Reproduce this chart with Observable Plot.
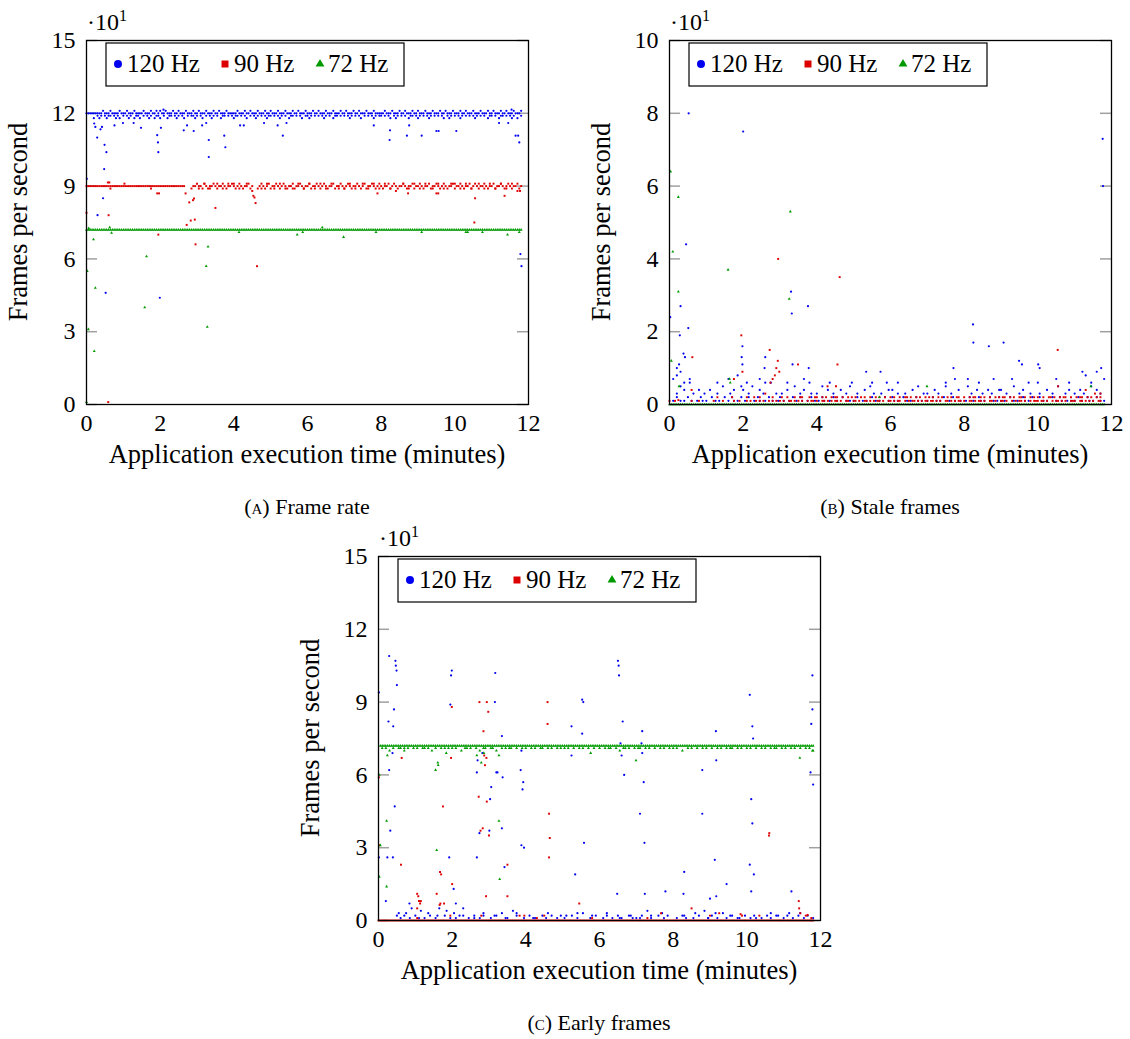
<!DOCTYPE html>
<html>
<head>
<meta charset="utf-8">
<script src="https://cdn.jsdelivr.net/npm/d3@7"></script>
<script src="https://cdn.jsdelivr.net/npm/@observablehq/plot@0.6"></script>
<style>
  body { margin: 0; background: #fff; }
  #page { position: relative; width: 1130px; height: 1039px; background: #fff; }
  .panel { position: absolute; }
</style>
</head>
<body>
<div id="page"></div>
<script>
// ---------------------------------------------------------------------------
// Data. Dense traces are stored as one character per sample, sampled every
// STEP minutes starting at t = 0 ("." = no sample, "c{n}" = c repeated n times).
// Isolated readings are stored as [minutes, fps] pairs.
// ---------------------------------------------------------------------------
const STEP = 0.05;
const rates = ["120 Hz", "90 Hz", "72 Hz"];
const timeTicks = [0, 2, 4, 6, 8, 10, 12];
const fpsTicks150 = [0, 30, 60, 90, 120, 150];
const fpsTicks100 = [0, 20, 40, 60, 80, 100];

// (A) Frame rate ----------------------------------------------------------
// 120 Hz: digit d -> 121 - d fps
const frameRate120Top = [
  "11111111101110111101", "11011101111011101101", "01101110110111011101",
  "10111011101101110111", "11011101101110111011", "01110111011101101110",
  "11101101110111011101", "10111011011101110111", "11011101110110111011",
  "01110111011101101110", "11101101110111011101", "10111011011101110"
].join("");
const frameRate120Low = [
  "....3.232.2322.2323.", "2.232.3223.2.232.322", "3.2.322.232.23.2.223",
  "2.23.2.232.2.322.2.2", "322.2.23.2.232.2.232", "2.2.232.2.322.2.23.2",
  "232.2.2.232.2.322.2.", "2.232.2.23.2.2.232.2", "2.2.23.232.2.2.322.2",
  "32.2.232.2.2.23.232.", "2.232.2.2.232.2.2.32", "2.2.322.2.232.3.2"
].join("");
const frameRate120Dips = [
  [0.01, 93], [0.21, 115.8], [0.24, 114.4], [0.29, 110], [0.3, 78], [0.38, 113.4],
  [0.42, 114.4], [0.45, 85], [0.48, 97], [0.49, 107], [0.54, 104], [0.52, 46],
  [0.76, 115], [0.99, 116], [1.28, 116], [1.48, 114], [1.92, 111], [1.94, 108],
  [1.95, 104], [1.99, 44], [2.02, 114], [2.09, 121.5], [2.64, 113], [2.73, 115],
  [2.91, 112.7], [3.14, 115], [3.32, 109], [3.32, 102], [3.25, 116], [3.74, 110.8],
  [3.77, 106], [4.17, 115], [4.27, 115], [4.82, 116], [5.19, 115], [5.33, 110.8],
  [5.43, 116], [7.8, 115], [8.24, 113], [8.23, 109], [8.7, 110.8], [8.76, 115],
  [9.1, 110.8], [9.5, 112.7], [9.56, 112.7], [10.04, 112.7], [11.2, 116], [11.45, 116],
  [11.54, 121.5], [11.65, 110.8], [11.72, 110.8], [11.75, 108], [11.78, 62], [11.81, 57]
];
// 90 Hz: digit d -> 91 - d fps
const frameRate90Top = [
  "11111111111111111111", "11111111111111111111", "11111111111111...211",
  "01120121101211012110", "12101211021..2101210", "21101210121102110121",
  "10211012101211021101", "21012110121021101210", "12110210121101211021",
  "10121102110121012110", "21101211021012110121", "10211012101211021"
].join("");
const frameRate90Low = [
  "....................", "....................", "....................",
  ".2..0..2...0..2..0..", "0..2...0..3....2..0.", "..2..0..2...2..0..2.",
  ".0..2..0..2..0...2..", "2..0..2...0..2..0..2", "..0..2..3...0..2..0.",
  ".2..0...2..0..2...0.", "0..2..0..2...0..2..0", "..2..0..2..0..3.."
].join("");
const frameRate90Dips = [
  [0, 79], [0.58, 91.5], [0.62, 91.5], [0.6, 78], [0.59, 1], [0.65, 89], [1.03, 91],
  [1.75, 89], [1.97, 87], [1.92, 87], [1.95, 70], [2.69, 87], [2.72, 74], [2.79, 83.3],
  [2.83, 75.8], [2.89, 84.2], [2.92, 84.9], [2.94, 76.2], [2.96, 66], [3.5, 81],
  [4.53, 86], [4.56, 85.3], [4.59, 83], [4.63, 57], [7.9, 87], [8.73, 87], [9.5, 87],
  [9.55, 87], [10.55, 85], [10.53, 75], [11.35, 86], [11.77, 88]
];
// 72 Hz: digit d -> 73 - d fps
const frameRate72Top = "1{237}";
const frameRate72Dips = [
  [0, 1], [0.02, 55], [0.05, 31], [0.06, 72.6], [0.19, 68], [0.21, 22], [0.24, 48],
  [0.63, 73], [0.68, 70.7], [1.58, 40], [1.63, 61], [3.25, 57], [3.28, 32], [3.3, 65],
  [4.14, 71], [5.72, 70], [5.87, 71], [6.4, 73], [6.98, 69], [7.86, 71], [9.1, 71],
  [10.3, 71], [10.35, 71], [10.75, 71], [11.43, 70], [11.75, 71]
];

// (B) Stale frames --------------------------------------------------------
// digit d -> d fps
const stale120Low = [
  "..1.2.1.1.2.1..1.21.", "1..2.1.1..2.1.21.1.2", ".1.2..1.21..1.2.1..1",
  "2.1..1.2.1.21..1.2.1", ".1.21..1.2.1..2.1.1.", "1.2..1.1..2.1.1..2.1",
  ".21.1..2.1.1..21.1..", "1..2.1.1.2..1.21..1.", ".1.2.1..21.1..2.1.12",
  "1.1..2.1.1..21.1.2..", ".2.1.1..2.1.21..1.1.", "1.2.1..21.1.2.1.1"
].join("");
const stale120Mid = [
  "....3.5.4..6.3..4..3", "..4...3..5...3.4...5", "4..3.5...4.3...6..3.",
  ".3..4...5..3.4...3..", "3..5..4..3...4..3.5.", "..3...4..5.3...3...4",
  ".4..3...3...4..5..3.", "3...4.3...5..3...4..", "..5.3..4..3..4.3...4",
  "4..3...5..3.4...3...", ".3...4..3..5...3.4..", "3..4.3...5..4.3.."
].join("");
const stale120High = [
  "..7.8.9.6..7........", "......6.....7....8..", "..6......7..6.......",
  "....6........7..6...", ".......6...........6", "..........6.......6.",
  "....6...............", "..........6....7....", "..7.....6.......7...",
  "......7........6....", "6.........7......6..", "......8..6..9...7"
].join("");
const stale120Peaks = [
  [0.02, 24], [0.2, 10], [0.26, 11], [0.3, 27], [0.28, 19], [0.38, 14], [0.42, 13],
  [0.45, 44], [0.51, 21], [0.52, 80], [2.0, 75], [1.98, 16], [1.96, 13], [1.98, 11],
  [2.6, 13], [2.58, 10], [3.3, 31], [3.32, 25], [3.34, 11], [3.76, 27], [3.78, 10],
  [11.76, 73], [11.77, 60], [11.72, 10], [8.24, 22], [8.25, 17], [8.67, 16], [9.07, 17],
  [9.49, 12], [9.57, 11], [10.01, 11], [10.05, 10], [7.71, 10], [5.34, 9], [5.73, 9],
  [11.21, 9]
];
const stale90Low = [
  "1..1........1...1...", "....1....1.....1..1.", "..1.1..1.1.1..1.1.1.",
  "1.1..11.1.1.1..1.11.", "1..11.1.1.11.1..11..", "11.1..11.1.1.11.1..1",
  "1.1.11..1.1.11.1.1.1", "1.11.1.1..11.1.1.11.", "1..11.1.11.1..11.1..",
  "11.1..1.1.11.1..1.11", "1.11.1..1.11.1.1..11", "1..11.1.1.1..11."
].join("");
const stale90Mid = [
  "....................", "......2.......2.....", "..2...2..2..3...2...",
  ".2..2...2..22...2..2", "2..2.2..2.22..2..2.2", ".2..2.2..2..2.2..2..",
  "2.2..2..22.2..2.2..2", ".2.2..2.2..2.2..22..", "2..2.22..2.2..2..2.2",
  ".22..2.2..22.2..2.2.", "2..2..22.2..2.22..2.", ".2.22..2.2..2.2."
].join("");
const stale90Peaks = [
  [0.24, 1.2], [0.6, 4], [0.62, 13], [1.75, 7], [1.95, 19], [1.98, 9], [2.72, 15],
  [2.74, 6], [2.8, 7], [2.86, 8], [2.9, 10], [2.94, 12], [2.98, 9], [2.95, 40],
  [3.49, 11], [4.29, 5], [4.52, 5], [4.56, 11], [4.62, 35], [10.54, 15], [10.55, 5],
  [11.3, 4], [11.55, 3], [11.7, 3]
];
const stale72Low = "0{237}";
const stale72Peaks = [
  [0.03, 64], [0.05, 12], [0.09, 42], [0.24, 57], [0.24, 31], [0.26, 5], [1.59, 37],
  [1.63, 7], [1.65, 6], [3.25, 29], [3.28, 53], [5.7, 2], [6.99, 5], [11.44, 5]
];

// (C) Early frames --------------------------------------------------------
// 120 Hz and 90 Hz: digit d -> d fps
const early120Low = [
  "..........2.1..3.1..", "2..4.1..2..1.5..2..1", "..1.2.5..1..2..1.3..",
  ".1..2..3..1..4.2...1", "..2..1...2.1..2..1..", ".1...2..1..3...1..2.",
  "..1.2..1..2.1...2.1.", "1..2..4.1...2..1.2..", "..1..2.1...1..2..4.1",
  ".2..1..3.1..2..1...2", "..1.2...1..2.1..2...", "1..3.1..2..1.2..1"
].join("");
const early120Mid = [
  "...........3..2...5.", "..1....3....2....4..", ".3....2.....1....2..",
  "...2.....1.....3....", "....1.......3......2", "..2.....3.......2...",
  "....3......1.....2..", "..1.....2.....3.....", "......2.....3......1",
  "...3.......2....1...", ".....1.......3...2..", "..2......3......."
].join("");
const early120Peaks = [
  [0.01, 94], [0.01, 26], [0.29, 109], [0.27, 82], [0.29, 62], [0.32, 37], [0.24, 26],
  [0.2, 8], [0.39, 26], [0.4, 80], [0.42, 87], [0.38, 69], [0.44, 47], [0.46, 107],
  [0.47, 105], [0.49, 103], [0.5, 97], [0.84, 7], [1.92, 26], [1.95, 89], [1.99, 103],
  [1.97, 101], [2.04, 13], [2.1, 7], [2.67, 61], [2.69, 66], [2.74, 36], [2.67, 26],
  [2.82, 69], [3.01, 37], [3.03, 50], [3.06, 55], [3.16, 90], [3.17, 102], [3.2, 61],
  [3.23, 61], [3.35, 38], [3.35, 76], [3.37, 59], [3.42, 22], [3.86, 62], [3.88, 31],
  [3.91, 54], [3.93, 57], [3.95, 30], [3.88, 70], [5.24, 80], [5.24, 68], [5.34, 19],
  [5.53, 91], [5.56, 90], [5.53, 77], [5.58, 32], [6.5, 107], [6.52, 105], [6.53, 101],
  [6.57, 73], [6.6, 68], [6.63, 82], [6.67, 60], [6.48, 11], [7.16, 78], [7.14, 73],
  [7.16, 69], [7.2, 57], [7.22, 32], [7.23, 11], [7.1, 44], [7.79, 12], [8.3, 20],
  [8.28, 11], [8.79, 62], [8.79, 44], [9.16, 78], [9.17, 66], [9.13, 25], [9.17, 10],
  [9.0, 9], [9.45, 15], [10.08, 93], [10.15, 80], [10.17, 75], [10.12, 50], [10.15, 40],
  [10.08, 23], [10.19, 19], [10.12, 12], [11.21, 12], [11.73, 61], [11.75, 81],
  [11.78, 87], [11.78, 101], [11.8, 56]
];
const early90Low = "0{237}";
const early90Peaks = [
  [0.01, 59], [0.02, 31], [0.61, 23], [0.63, 67], [1.05, 11], [1.08, 10], [1.1, 8],
  [1.05, 5], [1.13, 7], [1.15, 8], [1.05, 1], [1.58, 11], [1.66, 6.4], [1.68, 7],
  [1.67, 20], [1.7, 19], [1.75, 47], [1.78, 7], [1.97, 67], [1.99, 88], [2.0, 15],
  [1.95, 2], [2.74, 90], [2.72, 51], [2.77, 37], [2.83, 38], [2.85, 78], [2.87, 68],
  [2.89, 64], [2.93, 67], [2.94, 90], [2.98, 86], [2.94, 49], [2.92, 10], [3.0, 35],
  [2.79, 2], [3.5, 23], [3.5, 10], [3.83, 2], [3.96, 2], [4.59, 90], [4.59, 81],
  [4.63, 44], [4.65, 34], [4.63, 26], [4.3, 1], [4.5, 2], [5.45, 7], [5.8, 1], [7.3, 1],
  [7.67, 3], [8.5, 5], [9.0, 2], [9.25, 3], [9.83, 2.6], [9.87, 2], [10.34, 2],
  [10.6, 35], [10.61, 36], [11.41, 8], [11.42, 5], [11.45, 3], [11.6, 2], [11.65, 2.3],
  [11.75, 1]
];
// 72 Hz: digit d -> 73 - d fps
const early72Top = ".1{236}";
const early72Low = [
  "..2.2.3.2..22.2.2..2", ".2..22.2.3.2..2.2.2.", "2.2..3.22.2..2.3.22.",
  ".22.3..2.2.22..2..2.", "2..2.2..22..2.2..2.2", ".2.2..2..2.2..2..2..",
  "2..2.22..2.3.22.2..2", ".22..2.2..2..2.2..2.", "2.2..3..2.2..2..2.2.",
  ".2..2.2..2.22..2.2..", "2.2..2..2.2..2.22..2", ".2..2.2..2..2.2.3"
].join("");
const early72Dips = [
  [0.02, 60], [0.05, 31], [0.02, 18], [0.22, 41], [0.22, 14], [0.24, 68], [0.7, 70],
  [1.55, 62], [1.61, 65], [1.62, 64], [1.58, 29], [1.84, 69], [2.67, 68], [2.79, 65],
  [2.86, 69], [3.27, 41], [3.29, 17], [3.27, 68], [5.76, 69], [6.99, 66], [11.44, 67],
  [11.78, 70]
];

// ---------------------------------------------------------------------------
// Decoding helpers
// ---------------------------------------------------------------------------
const expand = code => code.replace(/(.)\{(\d+)\}/g, (_, c, n) => c.repeat(+n));
const samples = (code, value) =>
  Array.from(expand(code)).flatMap((c, i) =>
    c === "." ? [] : [{t: +(i * STEP).toFixed(2), v: value(+c)}]);
const pairs = list => list.map(([t, v]) => ({t, v}));

const below121 = d => 121 - d, below91 = d => 91 - d, below73 = d => 73 - d, asIs = d => d;

const frameRate = {
  "120 Hz": [...samples(frameRate120Top, below121), ...samples(frameRate120Low, below121), ...pairs(frameRate120Dips)],
  "90 Hz": [...samples(frameRate90Top, below91), ...samples(frameRate90Low, below91), ...pairs(frameRate90Dips)],
  "72 Hz": [...samples(frameRate72Top, below73), ...pairs(frameRate72Dips)]
};
const staleFrames = {
  "120 Hz": [...samples(stale120Low, asIs), ...samples(stale120Mid, asIs), ...samples(stale120High, asIs), ...pairs(stale120Peaks)],
  "90 Hz": [...samples(stale90Low, asIs), ...samples(stale90Mid, asIs), ...pairs(stale90Peaks)],
  "72 Hz": [...samples(stale72Low, asIs), ...pairs(stale72Peaks)]
};
const earlyFrames = {
  "120 Hz": [...samples(early120Low, asIs), ...samples(early120Mid, asIs), ...pairs(early120Peaks)],
  "90 Hz": [...samples(early90Low, asIs), ...pairs(early90Peaks)],
  "72 Hz": [...samples(early72Top, below73), ...samples(early72Low, below73), ...pairs(early72Dips)]
};

// ---------------------------------------------------------------------------
// Drawing
// ---------------------------------------------------------------------------
const colors = {"120 Hz": "#0000f0", "90 Hz": "#dd0000", "72 Hz": "#009a00"};
const symbols = {"120 Hz": "circle", "90 Hz": "square", "72 Hz": "triangle"};
const FONT = "'Liberation Serif', 'Times New Roman', serif";

function panel({left, top, width, marginLeft, yMax, yTicks, series, letter, title}) {
  const height = 530, marginTop = 40, marginBottom = 126, plotW = 442;
  const marginRight = width - marginLeft - plotW;
  const plotH = height - marginTop - marginBottom;

  const svg = Plot.plot({
    width, height, marginLeft, marginRight, marginTop, marginBottom,
    style: {fontFamily: FONT, fontSize: "24px", color: "#000", background: "transparent"},
    x: {domain: [0, 12]},
    y: {domain: [0, yMax]},
    marks: [
      Plot.tickY(yTicks, {y: d => d, insetRight: plotW - 11, stroke: "#a0a0a0", strokeWidth: 1.5}),
      Plot.tickY(yTicks, {y: d => d, insetLeft: plotW - 11, stroke: "#a0a0a0", strokeWidth: 1.5}),
      ...rates.map(r => Plot.dot(series[r], {
        x: "t", y: "v", r: 1.1, symbol: symbols[r], fill: colors[r]
      })),
      Plot.axisX({ticks: timeTicks, tickSize: 0, tickPadding: 9, label: null}),
      Plot.axisY({ticks: yTicks, tickSize: 0, tickPadding: 11, tickFormat: d => d / 10, label: null}),
      Plot.frame({stroke: "#000", strokeWidth: 1.3})
    ]
  });

  const s = d3.select(svg);
  // scale multiplier of the y axis
  const mult = s.append("text").attr("x", marginLeft + 1).attr("y", 30)
    .attr("font-size", 24).attr("text-anchor", "start");
  mult.append("tspan").text("·10");
  mult.append("tspan").attr("dy", -9).attr("font-size", 16).text("1");

  // axis titles
  s.append("text")
    .attr("x", marginLeft + plotW / 2).attr("y", marginTop + plotH + 59)
    .attr("text-anchor", "middle").attr("font-size", 26.5)
    .text("Application execution time (minutes)");
  s.append("text")
    .attr("transform", `translate(${marginLeft - 59},${marginTop + plotH / 2}) rotate(-90)`)
    .attr("text-anchor", "middle").attr("font-size", 26.5)
    .text("Frames per second");

  // legend
  const lg = s.append("g").attr("transform", `translate(${marginLeft + 20},${marginTop + 3})`);
  lg.append("rect").attr("width", 298).attr("height", 43)
    .attr("fill", "#fff").attr("stroke", "#000").attr("stroke-width", 1.2);
  const entries = [
    {r: "120 Hz", shape: d3.symbolCircle, size: 50, mx: 12, tx: 21},
    {r: "90 Hz", shape: d3.symbolSquare, size: 49, mx: 119, tx: 128},
    {r: "72 Hz", shape: d3.symbolTriangle, size: 34, mx: 214, tx: 222}
  ];
  for (const e of entries) {
    lg.append("path").attr("d", d3.symbol(e.shape, e.size)())
      .attr("transform", `translate(${e.mx},21)`).attr("fill", colors[e.r]);
    lg.append("text").attr("x", e.tx).attr("y", 29).attr("font-size", 25)
      .attr("text-anchor", "start").text(e.r);
  }

  // sub-figure caption
  const cap = s.append("text")
    .attr("x", marginLeft + plotW / 2).attr("y", 514)
    .attr("text-anchor", "middle").attr("font-size", 22);
  cap.append("tspan").text("(");
  cap.append("tspan").style("font-variant", "small-caps").text(letter);
  cap.append("tspan").text(") " + title);

  const div = document.createElement("div");
  div.className = "panel";
  div.style.left = left + "px";
  div.style.top = top + "px";
  div.appendChild(svg);
  document.getElementById("page").appendChild(div);
}

panel({left: 0, top: 0, width: 560, marginLeft: 86, yMax: 150, yTicks: fpsTicks150,
       series: frameRate, letter: "a", title: "Frame rate"});
panel({left: 580, top: 0, width: 550, marginLeft: 89, yMax: 100, yTicks: fpsTicks100,
       series: staleFrames, letter: "b", title: "Stale frames"});
panel({left: 290, top: 516, width: 560, marginLeft: 88, yMax: 150, yTicks: fpsTicks150,
       series: earlyFrames, letter: "c", title: "Early frames"});
</script>
</body>
</html>
